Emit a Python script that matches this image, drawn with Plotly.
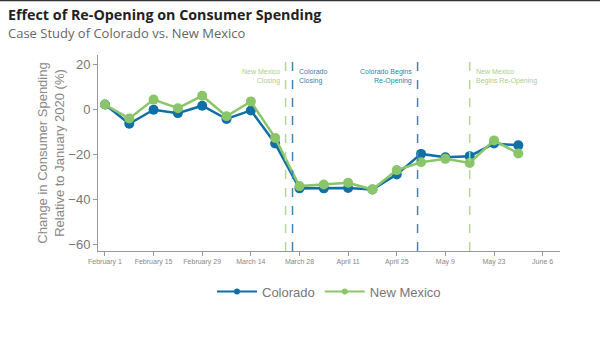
import plotly.graph_objects as go

weeks = ["2020-02-01", "2020-02-08", "2020-02-15", "2020-02-22", "2020-02-29", "2020-03-07",
         "2020-03-14", "2020-03-21", "2020-03-28", "2020-04-04", "2020-04-11", "2020-04-18",
         "2020-04-25", "2020-05-02", "2020-05-09", "2020-05-16", "2020-05-23", "2020-05-30"]
colorado = [2.0, -6.5, -0.3, -1.8, 1.5, -4.4, -0.6, -15.3, -35.2, -35.2, -35.0, -35.7,
            -29.0, -19.9, -21.4, -20.9, -15.3, -16.1]
new_mexico = [2.0, -4.2, 4.2, 0.4, 5.9, -3.2, 3.4, -12.8, -34.2, -33.5, -32.7, -35.7,
              -27.1, -23.6, -22.1, -23.9, -13.9, -19.7]

tick_dates = ["2020-02-01", "2020-02-15", "2020-02-29", "2020-03-14", "2020-03-28",
              "2020-04-11", "2020-04-25", "2020-05-09", "2020-05-23", "2020-06-06"]
tick_labels = ["February 1", "February 15", "February 29", "March 14", "March 28",
               "April 11", "April 25", "May 9", "May 23", "June 6"]

events = [
    ("2020-03-24", "New Mexico<br>Closing", "nm", "right"),
    ("2020-03-26", "Colorado<br>Closing", "co", "left"),
    ("2020-05-01", "Colorado Begins<br>Re-Opening", "co", "right"),
    ("2020-05-16", "New Mexico<br>Begins Re-Opening", "nm", "left"),
]

BLUE = "#106fa6"
GREEN = "#8bc56a"
LINE_COL = {"co": "#3f86b3", "nm": "#b5d69c"}
TEXT_COL = {"co": "#2f7fae", "nm": "#a9cf8e"}

fig = go.Figure()
fig.add_trace(go.Scatter(x=weeks, y=colorado, name="Colorado", mode="lines+markers",
                         showlegend=False,
                         line=dict(color=BLUE, width=2.5), marker=dict(size=10, color=BLUE)))
fig.add_trace(go.Scatter(x=weeks, y=new_mexico, name="New Mexico", mode="lines+markers",
                         showlegend=False,
                         line=dict(color=GREEN, width=2.5), marker=dict(size=10, color=GREEN)))
# legend entries with small markers
fig.add_trace(go.Scatter(x=[None], y=[None], name="Colorado", mode="lines+markers",
                         line=dict(color=BLUE, width=2), marker=dict(size=6, color=BLUE)))
fig.add_trace(go.Scatter(x=[None], y=[None], name="New Mexico", mode="lines+markers",
                         line=dict(color=GREEN, width=2), marker=dict(size=6, color=GREEN)))

for d, label, who, side in events:
    fig.add_shape(type="line", xref="x", yref="paper", x0=d, x1=d, y0=0, y1=1,
                  line=dict(color=LINE_COL[who], width=1.5, dash="dash"))
    fig.add_annotation(x=d, y=0.89, xref="x", yref="paper", text=label, showarrow=False,
                       xanchor="right" if side == "right" else "left",
                       xshift=-4 if side == "right" else 4,
                       align=side, yanchor="middle",
                       font=dict(size=7, color=TEXT_COL[who], family="Liberation Sans"))

# slide header line
fig.add_shape(type="rect", xref="paper", yref="paper", x0=-0.3, x1=1.2, y0=1.274, y1=1.29,
              fillcolor="#333", line=dict(width=0), layer="above")

# title and subtitle
fig.add_annotation(x=-0.197, y=1.207, xref="paper", yref="paper", showarrow=False,
                   xanchor="left", yanchor="middle", borderpad=0,
                   text="<b>Effect of Re-Opening on Consumer Spending</b>",
                   font=dict(size=14.3, color="#222", family="Open Sans"))
fig.add_annotation(x=-0.197, y=1.111, xref="paper", yref="paper", showarrow=False,
                   xanchor="left", yanchor="middle", borderpad=0,
                   text="Case Study of Colorado vs. New Mexico",
                   font=dict(size=13, color="#666", family="Open Sans"))

fig.update_layout(
    width=600, height=338,
    margin=dict(l=98, r=40, t=55, b=87),
    paper_bgcolor="white", plot_bgcolor="white",
    font=dict(family="Liberation Sans", color="#777"),
    showlegend=True,
    legend=dict(orientation="h", x=0.5, xanchor="center", y=-0.13, yanchor="top",
                font=dict(size=13, color="#777"), itemwidth=40),
    xaxis=dict(range=["2020-01-30", "2020-06-11"], tickvals=tick_dates, ticktext=tick_labels,
               showgrid=False, showline=True, linecolor="#999", linewidth=1,
               ticks="outside", ticklen=4, tickcolor="#999",
               tickfont=dict(size=7, color="#888"), zeroline=False),
    yaxis=dict(range=[-63, 24], tickvals=[20, 0, -20, -40, -60],
               showgrid=False, showline=True, linecolor="#999", linewidth=1,
               ticks="outside", ticklen=4, tickcolor="#999",
               tickfont=dict(size=13, color="#777"), zeroline=False,
               title=dict(text="Change in Consumer Spending<br>Relative to January 2020 (%)",
                          font=dict(size=13, color="#888"), standoff=0)),
)

fig.write_html("out.html")
